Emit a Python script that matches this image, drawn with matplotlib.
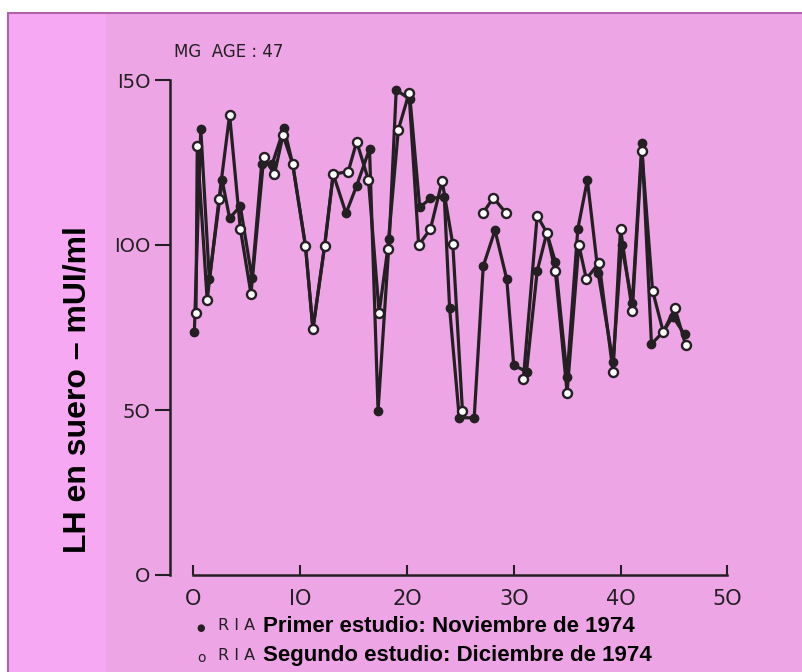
import numpy as np
import matplotlib
matplotlib.use("Agg")
import matplotlib.pyplot as plt
from matplotlib.patches import Rectangle

# Primer estudio (filled markers)
x_primer = [0.1, 0.7, 1.5, 2.7, 3.4, 4.4, 5.5, 6.4, 7.4, 8.5, 9.3, 10.5, 11.2, 12.3,
            13.1, 14.3, 15.3, 16.5, 17.3, 18.35, 19.0, 20.3, 21.2, 22.2, 23.5, 24.0,
            24.9, 26.3, 27.15, 28.25, 29.35, 30.0, 31.2, 32.2, 33.1, 33.9, 35.0, 36.0,
            36.9, 37.9, 39.3, 40.1, 41.1, 42.0, 42.9, 44.0, 44.9, 46.0]
lh_primer = [73.7, 135.2, 89.6, 119.7, 108.1, 111.8, 89.9, 124.5, 124.6, 135.5, 124.6,
             99.8, 74.5, 99.8, 121.5, 109.6, 118, 129.1, 49.8, 101.7, 147, 144.1, 111.4,
             114.1, 114.6, 80.8, 47.7, 47.6, 93.6, 104.5, 89.6, 63.6, 61.6, 92.1, 103.7,
             94.9, 60.1, 104.8, 119.7, 91.6, 64.6, 100, 82.3, 130.8, 70, 73.7, 78.3, 72.9]

# Segundo estudio (open markers), nan = gap in the line
x_segundo = [0.25, 0.37, 1.3, 2.4, 3.4, 4.4, 5.4, 6.6, 7.6, 8.4, 9.3, 10.5, 11.2, 12.3,
             13.1, 14.5, 15.3, 16.4, 17.4, 18.2, 19.2, 20.2, 21.1, 22.2, 23.3, 24.3,
             25.2, 26.2, 27.1, 28.1, 29.3, 30.1, 30.9, 32.2, 33.1, 33.9, 35.0, 36.1,
             36.8, 38.0, 39.3, 40.0, 41.1, 42.0, 43.0, 44.0, 45.1, 46.1]
lh_segundo = [79.3, 130, 83.3, 113.8, 139.4, 105, 85.2, 126.6, 121.5, 133.3, 124.6,
              99.8, 74.5, 99.8, 121.5, 122.2, 131.3, 119.7, 79.5, 98.7, 135, 146, 100,
              104.8, 119.4, 100.2, 49.8, np.nan, 109.6, 114.3, 109.6, np.nan, 59.3, 108.9,
              103.7, 92, 55.3, 100, 89.7, 94.6, 61.6, 105, 80, 128.5, 86.2, 73.7, 80.8, 69.7]

x_ticks = [0, 10, 20, 30, 40, 50]
y_ticks = [0, 50, 100, 150]
y_ticklabels = ["O", "5O", "IOO", "I5O"]
x_ticklabels = ["O", "IO", "2O", "3O", "4O", "5O"]

W, H = 802, 672
fig = plt.figure(figsize=(W / 100, H / 100), dpi=100)
fig.patch.set_facecolor("white")

main_pink = "#eea5e6"
strip_pink = "#f6a9f2"
border = "#b262ad"
ink = "#231f22"

fig.add_artist(Rectangle((8 / W, 0), 794 / W, 659 / H, transform=fig.transFigure,
                         facecolor=main_pink, edgecolor="none", zorder=0))
fig.add_artist(Rectangle((8 / W, 0), 98 / W, 659 / H, transform=fig.transFigure,
                         facecolor=strip_pink, edgecolor="none", zorder=0))
fig.add_artist(Rectangle((8 / W, -0.01), 800 / W, 659 / H + 0.01, transform=fig.transFigure,
                         facecolor="none", edgecolor=border, lw=1.5, zorder=1))

# axes placed so that x: 0->193px, 50->727px ; y: 0->575px, 150->80px
px_per_x = (727.3 - 193.3) / 50
px_per_y = (575 - 80) / 150
left_px, right_px, top_px, bot_px = 150, 745, 55, 600
ax = fig.add_axes([left_px / W, 1 - bot_px / H, (right_px - left_px) / W, (bot_px - top_px) / H])
ax.set_facecolor("none")
ax.set_xlim((left_px - 193.3) / px_per_x, (right_px - 193.3) / px_per_x)
ax.set_ylim((575 - bot_px) / px_per_y, (575 - top_px) / px_per_y)

ax.plot(x_primer, lh_primer, color=ink, lw=2.3, marker="o", ms=6,
        mfc=ink, mec=ink, zorder=3)
ax.plot(x_segundo, lh_segundo, color=ink, lw=2.3, marker="o", ms=6.5,
        mfc="white", mec=ink, mew=1.7, zorder=4)

for s in ["top", "right"]:
    ax.spines[s].set_visible(False)
ax.spines["left"].set_position(("data", (170 - 193.3) / px_per_x))
ax.spines["left"].set_bounds(0, 150)
ax.spines["bottom"].set_position(("data", 0))
ax.spines["bottom"].set_bounds(0, 50)
for s in ["left", "bottom"]:
    ax.spines[s].set_color(ink)
    ax.spines[s].set_linewidth(1.8)

ax.set_yticks(y_ticks)
ax.set_yticklabels(y_ticklabels)
ax.set_xticks(x_ticks)
ax.set_xticklabels(x_ticklabels)
ax.tick_params(axis="y", direction="out", length=11, width=1.5, color=ink,
               labelsize=14, labelcolor=ink, pad=3)
ax.tick_params(axis="x", direction="in", length=7, width=1.5, color=ink,
               labelsize=15, labelcolor=ink, pad=10)
for lab in ax.get_xticklabels() + ax.get_yticklabels():
    lab.set_fontfamily("DejaVu Sans")

fig.text(174 / W, 1 - 52 / H, "MG  AGE : 47", fontsize=12, color=ink,
         va="center", ha="left", family="DejaVu Sans")

fig.text(78 / W, 1 - 390 / H, "LH en suero \u2013 mUI/ml", rotation=90, fontsize=23,
         fontweight="bold", color="black", va="center", ha="center",
         family=["Liberation Sans", "DejaVu Sans"])

# legend lines under the axis
fig.text(201 / W, 1 - 628 / H, "\u25CF", fontsize=7, color=ink, va="center", ha="center")
fig.text(201 / W, 1 - 658 / H, "o", fontsize=10, color=ink, va="center", ha="center")
fig.text(218 / W, 1 - 626 / H, "R I A", fontsize=11.5, color=ink, va="center", ha="left",
         family="DejaVu Sans")
fig.text(218 / W, 1 - 655 / H, "R I A", fontsize=11.5, color=ink, va="center", ha="left",
         family="DejaVu Sans")
fig.text(263 / W, 1 - 627 / H, "Primer estudio: Noviembre de 1974", fontsize=16,
         fontweight="bold", color="black", va="center", ha="left",
         family=["Liberation Sans Narrow", "Liberation Sans"])
fig.text(263 / W, 1 - 655 / H, "Segundo estudio: Diciembre de 1974", fontsize=16,
         fontweight="bold", color="black", va="center", ha="left",
         family=["Liberation Sans Narrow", "Liberation Sans"])

fig.savefig("out.png", dpi=100)
